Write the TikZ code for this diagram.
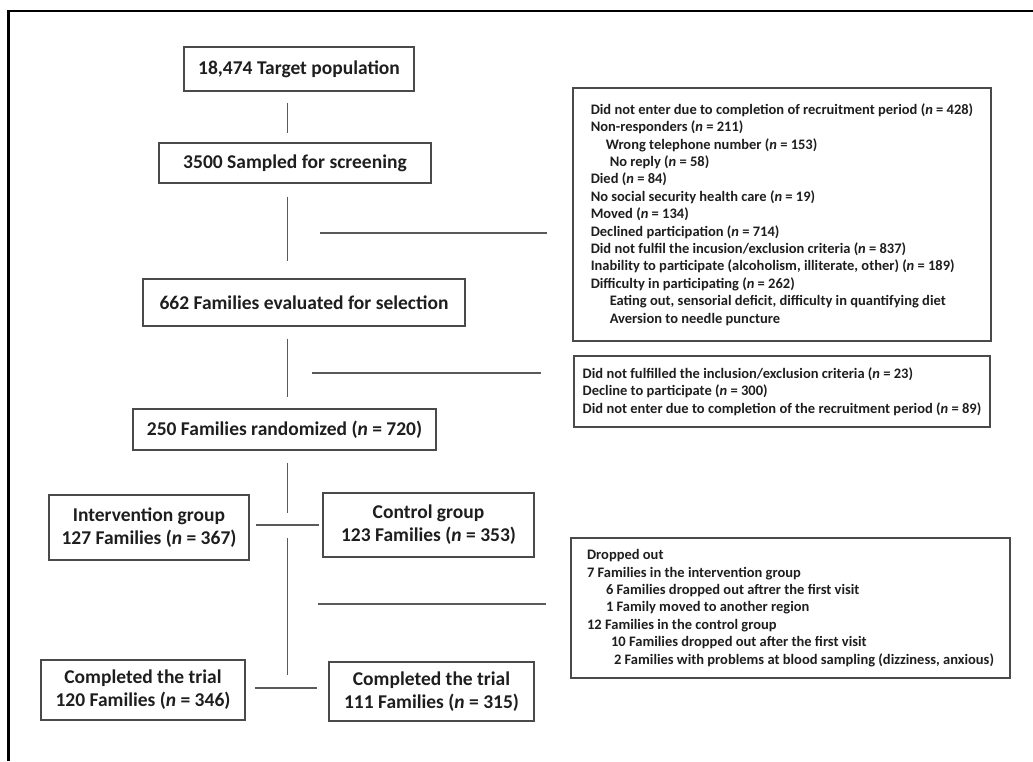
\documentclass[tikz,border=0pt]{standalone}
\usepackage{fontspec}
\setmainfont{Carlito}
\usepackage{tikz}

\definecolor{boxline}{HTML}{4A4A4A}
\definecolor{linkline}{HTML}{5A5A5A}
\definecolor{inktext}{HTML}{1E1E1E}

\begin{document}
\begin{tikzpicture}[
  x=1pt, y=-1pt,
  text=inktext,
  stage/.style={draw=boxline, line width=1.3pt, align=center, inner sep=0pt, font=\fontsize{19.5}{23}\selectfont\bfseries},
  note/.style={draw=boxline, line width=1.3pt, align=left, inner sep=0pt, font=\fontsize{14.5}{17.4}\selectfont\bfseries},
  link/.style={draw=linkline, line width=1.2pt}]
\useasboundingbox (0,0) rectangle (1033,761);
% outer frame
\draw[line width=2.8pt] (1033,11) -- (8.7,11) -- (8.7,761);

% main column
\node[stage, minimum width=230pt, minimum height=44pt] (target) at (299,69) {18,474 Target population};
\node[stage, minimum width=272pt, minimum height=40pt] (sampled) at (295,163) {3500 Sampled for screening};
\node[stage, minimum width=322pt, minimum height=47pt] (evaluated) at (304,302.5) {662 Families evaluated for selection};
\node[stage, minimum width=303pt, minimum height=41pt] (randomized) at (284.5,429.5) {250 Families randomized (\textit{n} = 720)};
\node[stage, minimum width=200pt, minimum height=65pt] (interv) at (149,527.5) {Intervention group\\127 Families (\textit{n} = 367)};
\node[stage, minimum width=211pt, minimum height=64pt] (control) at (428.5,525) {Control group\\123 Families (\textit{n} = 353)};
\node[stage, minimum width=204pt, minimum height=60pt] (doneint) at (143,690) {Completed the trial\\120 Families (\textit{n} = 346)};
\node[stage, minimum width=205pt, minimum height=59pt] (donectl) at (431.5,691.5) {Completed the trial\\111 Families (\textit{n} = 315)};

% side notes
\node[note, minimum width=418pt, minimum height=253pt] (exclscreen) at (782,214.5) {%
Did not enter due to completion of recruitment period (\textit{n} = 428)\\
Non-responders (\textit{n} = 211)\\
\hspace*{15pt}Wrong telephone number (\textit{n} = 153)\\
\hspace*{19pt}No reply (\textit{n} = 58)\\
Died (\textit{n} = 84)\\
No social security health care (\textit{n} = 19)\\
Moved (\textit{n} = 134)\\
Declined participation (\textit{n} = 714)\\
Did not fulfil the incusion/exclusion criteria (\textit{n} = 837)\\
Inability to participate (alcoholism, illiterate, other) (\textit{n} = 189)\\
Difficulty in participating (\textit{n} = 262)\\
\hspace*{19pt}Eating out, sensorial deficit, difficulty in quantifying diet\\
\hspace*{19pt}Aversion to needle puncture};
\node[note, minimum width=416pt, minimum height=71pt] (exclselect) at (782,391.5) {%
Did not fulfilled the inclusion/exclusion criteria (\textit{n} = 23)\\
Decline to participate (\textit{n} = 300)\\
Did not enter due to completion of the recruitment period (\textit{n} = 89)};
\node[note, minimum width=439pt, minimum height=140pt] (dropped) at (790.5,608) {%
Dropped out\\
7 Families in the intervention group\\
\hspace*{19pt}6 Families dropped out aftrer the first visit\\
\hspace*{19pt}1 Family moved to another region\\
12 Families in the control group\\
\hspace*{24pt}10 Families dropped out after the first visit\\
\hspace*{27pt}2 Families with problems at blood sampling (dizziness, anxious)};

% spine and branch points
\coordinate (spine) at (287.5,0);
\coordinate (cut1) at (287.5,233);
\coordinate (cut2) at (287.5,373);
\coordinate (split1) at (287.5,525);
\coordinate (cut3) at (287.5,604);
\coordinate (split2) at (287.5,688);

\draw[link, shorten <=11pt, shorten >=9pt] (target.south -| spine) -- (sampled.north -| spine);
\draw[link, shorten <=13pt, shorten >=17pt] (sampled.south -| spine) -- (evaluated.north -| spine);
\draw[link, shorten <=32pt, shorten >=25pt] (cut1) -- (cut1 -| exclscreen.west);
\draw[link, shorten <=12pt, shorten >=11pt] (evaluated.south -| spine) -- (randomized.north -| spine);
\draw[link, shorten <=24.5pt, shorten >=32pt] (cut2) -- (cut2 -| exclselect.west);
\draw[link, shorten <=12pt, shorten >=12pt] (randomized.south -| spine) -- (split1);
\draw[link, shorten <=6pt, shorten >=3pt] (split1 -| interv.east) -- (split1 -| control.west);
\draw[link, shorten <=13pt, shorten >=13pt] (split1) -- (split2);
\draw[link, shorten <=30.5pt, shorten >=24pt] (cut3) -- (cut3 -| dropped.west);
\draw[link, shorten <=9pt, shorten >=11pt] (split2 -| doneint.east) -- (split2 -| donectl.west);
\end{tikzpicture}
\end{document}
